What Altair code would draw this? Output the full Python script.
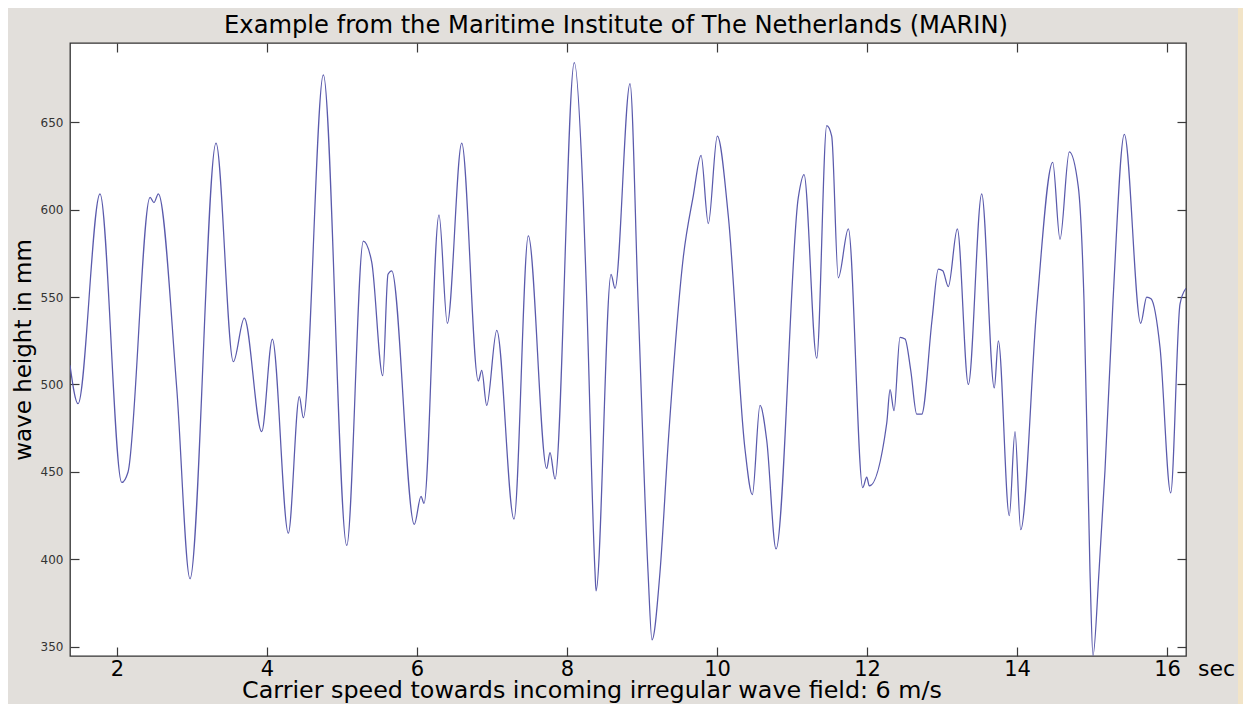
import altair as alt
import pandas as pd

# ---- data ----
time_s = [1.373, 1.48, 1.773, 2.063, 2.147, 2.44, 2.493, 2.551, 2.796, 2.973,
          3.32, 3.551, 3.697, 3.929, 4.071, 4.284, 4.431, 4.484, 4.751, 5.063,
          5.284, 5.396, 5.543, 5.613, 5.663, 5.964, 6.053, 6.093, 6.293, 6.404,
          6.596, 6.817, 6.863, 6.929, 7.063, 7.293, 7.484, 7.729, 7.773, 7.84,
          8.097, 8.217, 8.263, 8.373, 8.387, 8.587, 8.64, 8.84, 8.947, 9.08,
          9.133, 9.24, 9.351, 9.551, 9.684, 9.787, 9.884, 10.004, 10.151, 10.373,
          10.471, 10.573, 10.663, 10.787, 11.084, 11.16, 11.329, 11.463, 11.529, 11.617,
          11.751, 11.943, 11.996, 12.031, 12.263, 12.307, 12.36, 12.44, 12.507, 12.583,
          12.663, 12.729, 12.867, 12.951, 13.01, 13.084, 13.204, 13.351, 13.529, 13.697,
          13.751, 13.897, 13.973, 14.049, 14.263, 14.476, 14.573, 14.697, 14.817, 14.893,
          14.973, 15.013, 15.093, 15.173, 15.28, 15.431, 15.649, 15.729, 15.787, 15.907,
          16.049, 16.173, 16.253]
height_mm = [511, 489, 609, 444, 450, 607, 604, 609, 498, 389,
             638, 513, 538, 473, 526, 415, 493, 481, 677, 408,
             582, 570, 505, 563, 565, 420, 436, 432, 597, 535,
             638, 502, 508, 488, 531, 423, 585, 452, 461, 446,
             684, 605, 548, 393, 382, 563, 555, 672, 548, 393,
             354, 393, 468, 573, 608, 631, 592, 642, 596, 463,
             437, 488, 468, 406, 607, 620, 515, 648, 642, 561,
             589, 441, 447, 442, 478, 497, 485, 527, 526, 508,
             483, 483, 537, 566, 565, 556, 589, 500, 609, 498,
             525, 425, 473, 417, 544, 627, 583, 633, 613, 548,
             393, 345, 393, 451, 548, 643, 535, 550, 549, 521,
             438, 546, 555]
x_ticks = [2, 4, 6, 8, 10, 12, 14, 16]
y_ticks = [350, 400, 450, 500, 550, 600, 650]
x_domain = [1.373, 16.253]
y_domain = [344.8, 695.2]
title_text = ["Example from the Maritime Institute of The Netherlands (MARIN)"]
x_title = "Carrier speed towards incoming irregular wave field: 6 m/s"
y_title = "wave height in mm"
unit_label = ["sec"]

df = pd.DataFrame({"t": time_s, "h": height_mm})
one = pd.DataFrame({"label": unit_label})
ttl = pd.DataFrame({"label": title_text})

FONT = "DejaVu Sans"
TICK = "#3a3a3a"
GRAY = "#E2DFDB"
BEIGE = "#F2E4C7"

xs = alt.Scale(domain=x_domain, nice=False, zero=False)
ys = alt.Scale(domain=y_domain, nice=False, zero=False)

line = alt.Chart(df).mark_line(
    color="#5a5aac", strokeWidth=1.25, interpolate="monotone", clip=True
).encode(
    x=alt.X("t:Q", scale=xs, axis=alt.Axis(
        orient="bottom", values=x_ticks, offset=-9, tickSize=9, tickColor=TICK,
        tickWidth=1.2, domain=False, grid=False, format="d",
        labelFont=FONT, labelFontSize=21, labelColor="black", labelPadding=2,
        title=x_title, titleFont=FONT, titleFontSize=23.8, titleFontWeight="normal",
        titleColor="black", titleX=521.5, titleY=50, titleBaseline="alphabetic",
        titleAlign="center")),
    y=alt.Y("h:Q", scale=ys, axis=alt.Axis(
        orient="left", values=y_ticks, offset=-9, tickSize=9, tickColor=TICK,
        tickWidth=1.2, domain=False, grid=False, format="d",
        labelFont=FONT, labelFontSize=12, labelColor="#333333", labelPadding=7,
        title=y_title, titleFont=FONT, titleFontSize=23, titleFontWeight="normal",
        titleColor="black", titleX=-49, titleBaseline="alphabetic")),
)

frame = alt.Chart(df).mark_line(strokeOpacity=0).encode(
    x=alt.X("t:Q", scale=xs, axis=alt.Axis(
        orient="top", values=x_ticks, offset=-9, tickSize=9, tickColor=TICK,
        tickWidth=1.2, domain=False, grid=False, labels=False, title="")),
    y=alt.Y("h:Q", scale=ys, axis=alt.Axis(
        orient="right", values=y_ticks, offset=-9, tickSize=9, tickColor=TICK,
        tickWidth=1.2, domain=False, grid=False, labels=False, title="")),
)

strip = alt.Chart(one).mark_rect(color=BEIGE).encode(
    x=alt.value(1168), x2=alt.value(1180), y=alt.value(-40), y2=alt.value(700)
)

sec = alt.Chart(one).mark_text(
    font=FONT, fontSize=22, color="black", align="left", baseline="alphabetic"
).encode(text="label:N", x=alt.value(1128), y=alt.value(633))

title = alt.Chart(ttl).mark_text(
    font=FONT, fontSize=24.2, color="black", align="center", baseline="alphabetic"
).encode(text="label:N", x=alt.value(546), y=alt.value(-10))

chart = alt.layer(line, frame, strip, sec, title).resolve_scale(
    x="independent", y="independent"
).resolve_axis(
    x="independent", y="independent"
).properties(
    width=1116, height=613,
    autosize=alt.AutoSizeParams(type="none"),
    padding={"left": 62, "top": 35, "right": 57, "bottom": 48},
    background=GRAY,
).configure_view(fill="white", stroke="#333333", strokeWidth=1.3)

chart.save("out.html", embed_options={"renderer": "svg", "actions": False})
